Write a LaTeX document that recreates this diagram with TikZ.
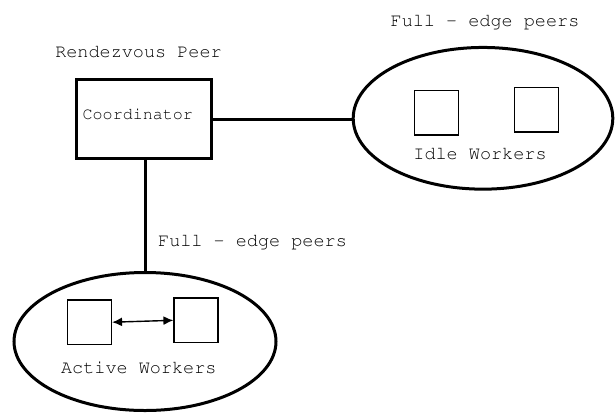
\documentclass[tikz,border=0pt]{standalone}
\usepackage[T1]{fontenc}
\usepackage{courier}
\usetikzlibrary{arrows.meta,shapes.geometric}

\begin{document}
\begin{tikzpicture}[
  x=1pt, y=-1pt,
  font=\ttfamily\fontsize{18.5}{20}\selectfont, >=Latex,
  peerbox/.style={draw, line width=3pt, minimum width=135pt, minimum height=79pt, inner sep=0pt},
  group/.style={draw, ellipse, line width=3pt, inner sep=0pt},
  worker/.style={draw, line width=1.6pt, minimum width=44pt, minimum height=44.5pt, inner sep=0pt},
  link/.style={line width=3pt},
  caption/.style={anchor=base, inner sep=0pt},
]
\useasboundingbox (0,0) rectangle (615,413);
% --- rendezvous peer ---
\node[peerbox] (coord) at (144,119) {};
\node[caption, anchor=base west, font=\ttfamily\fontsize{16.7}{18}\selectfont] (coordlbl) at (82.5,119.3) {Coordinator};
\node[caption] (rdvlbl) at (138.5,57.3) {Rendezvous Peer};
% --- idle workers ---
\node[group, minimum width=259.6pt, minimum height=141.7pt] (idle) at (483,118.3) {};
\node[worker] (idleA) at (436.3,112.7) {};
\node[worker] (idleB) at (536.5,109.7) {};
\node[caption] (idlelbl) at (480,159.3) {Idle Workers};
\node[caption] (idlepeers) at (485,26.7) {Full - edge peers};
% --- active workers ---
\node[group, minimum width=262pt, minimum height=138pt] (active) at (145,341.5) {};
\node[worker] (actA) at (89.3,322.2) {};
\node[worker] (actB) at (196.2,320.3) {};
\node[caption] (actlbl) at (138.8,373.3) {Active Workers};
\node[caption] (actpeers) at (252.5,246) {Full - edge peers};
% --- links ---
\draw[link] (coord.east) -- (coord.east -| idle.west);
\draw[link] (coord.south -| 145,0) -- (active.north -| 145,0);
\draw[<->, line width=1.4pt, >={Latex[length=10pt,width=9pt]}] (actA.east) -- (actB.west);
\end{tikzpicture}
\end{document}
